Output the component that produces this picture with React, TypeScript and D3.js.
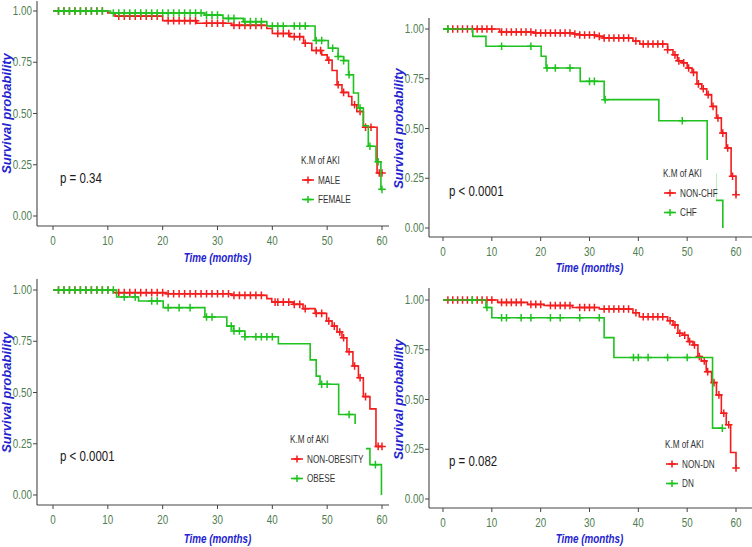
import React from "react";
import * as d3 from "d3";

// ---------- shared axis values ----------
const timeTicks = [0, 10, 20, 30, 40, 50, 60];
const survTicks = [0, 0.25, 0.5, 0.75, 1];
const legendTitle = "K.M of AKI";
const xTitle = "Time (months)";
const yTitle = "Survival probability";

// ---------- Panel A: sex ----------
const maleSteps: [number, number][] = [
  [0, 1], [10, 0.99], [11.3, 0.975], [20, 0.953], [26.2, 0.94], [32.6, 0.93], [39, 0.915],
  [40, 0.89], [43.2, 0.875], [45.7, 0.843], [47.2, 0.807], [49, 0.786], [50, 0.76], [50.9, 0.71],
  [51.8, 0.64], [52.7, 0.603], [53.9, 0.583], [54.5, 0.543], [55.4, 0.51], [56.6, 0.433], [59.1, 0.21],
];
const maleCensor = [1, 2, 3, 4, 5, 6, 7, 8, 9, 12, 13, 14, 15, 16, 17, 18, 19, 21, 22, 23, 24, 25, 26,
  28, 29, 30, 31, 33, 34, 35, 36, 37, 38, 41, 42, 43, 44, 45, 46, 48, 48.8, 50.3, 52, 53, 55, 56, 57, 58, 59.5, 60];
const femaleSteps: [number, number][] = [
  [0, 1], [10.5, 0.99], [27.7, 0.98], [31, 0.964], [34.7, 0.948], [39, 0.927], [47.8, 0.856],
  [50.2, 0.818], [52, 0.778], [53, 0.758], [53.9, 0.689], [54.8, 0.6], [55.7, 0.527], [56.6, 0.44],
  [57.5, 0.34], [58.9, 0.265], [59.8, 0.13],
];
const femaleCensor = [1, 2, 3, 4, 5, 6, 7, 8, 9, 11, 12, 13, 14, 15, 16, 17, 18, 19, 20, 21, 22, 23, 24, 25,
  26, 27, 28, 29, 30, 32, 33, 35, 36, 37, 38, 40, 41, 42, 44, 45, 46, 48, 49, 51, 52, 53, 54, 56, 57.8, 59.3, 60];

// ---------- Panel B: CHF ----------
const nonChfSteps: [number, number][] = [
  [0, 1], [11.6, 0.985], [18.6, 0.98], [26.8, 0.975], [28, 0.97], [31.4, 0.963], [32.8, 0.955],
  [38.9, 0.94], [40.3, 0.925], [46, 0.896], [47.1, 0.87], [48, 0.84], [49, 0.83], [50, 0.804],
  [51, 0.782], [52, 0.724], [53, 0.7], [54, 0.67], [55, 0.611], [56, 0.553], [57, 0.477],
  [58, 0.402], [59, 0.26], [60, 0.167],
];
const nonChfCensor = [1, 2, 3, 4, 5, 6, 7, 8, 9, 10, 12, 13, 14, 15, 16, 17, 18, 19, 20, 21, 22, 23, 24, 25,
  26, 27, 28, 29, 30, 31, 32, 33, 34, 35, 36, 37, 38, 39.5, 41, 42, 43, 44, 45, 46, 47.5, 48.3, 49.3,
  50.3, 51.3, 52.3, 53.3, 54.3, 55.3, 56.3, 57.3, 58.3, 59.3, 60];
const chfSteps: [number, number][] = [
  [0, 1], [6.1, 0.963], [8.8, 0.913], [20.1, 0.863], [21.1, 0.804], [28.1, 0.737], [33, 0.645],
  [44.2, 0.539], [54.1, 0.27], [55.8, 0.139], [57.3, 0],
];
const chfCensor = [1, 12, 18, 21.3, 23, 26, 30, 31, 33.2, 49];

// ---------- Panel C: obesity ----------
const nonObeseSteps: [number, number][] = [
  [0, 1], [11, 0.987], [20.7, 0.982], [32.6, 0.974], [39, 0.958], [39.9, 0.941], [43.8, 0.93],
  [45.6, 0.909], [47.8, 0.886], [49.9, 0.849], [50.9, 0.824], [51.8, 0.795], [52.7, 0.767],
  [53.6, 0.699], [54.7, 0.629], [55.7, 0.572], [56.6, 0.48], [57.8, 0.42], [58.9, 0.237],
];
const nonObeseCensor = [1, 2, 3, 4, 5, 6, 7, 8, 9, 10, 12, 13, 14, 15, 16, 17, 18, 19, 20, 21, 22, 23, 24,
  25, 26, 27, 28, 29, 30, 31, 32, 33, 34, 35, 36, 37, 38, 40.5, 41, 42, 43, 44, 45, 46, 48, 49, 50.3,
  51.3, 52.3, 53, 54, 55, 56, 57, 59.3, 60];
const obeseSteps: [number, number][] = [
  [0, 1], [11.6, 0.966], [15.6, 0.946], [20.1, 0.914], [27.7, 0.868], [31.7, 0.824], [32.9, 0.8],
  [35, 0.772], [41.1, 0.738], [46.9, 0.659], [48, 0.58], [48.7, 0.54], [52.1, 0.393], [55.1, 0.3],
  [56.5, 0.226], [57.8, 0.148], [59.9, 0],
];
const obeseCensor = [1, 2, 3, 4, 5, 6, 7, 8, 9, 10, 11, 13, 15, 18, 19, 21, 23, 25, 28, 29, 32.5, 33, 34,
  35, 37, 38, 39, 40, 49, 50, 54, 58.8];

// ---------- Panel D: DN ----------
const nonDnSteps: [number, number][] = [
  [0, 1], [11.2, 0.988], [17.3, 0.978], [20.7, 0.972], [26.5, 0.962], [32, 0.955], [38.9, 0.936],
  [40.2, 0.916], [46, 0.896], [47.1, 0.875], [48.1, 0.833], [49.1, 0.823], [50.2, 0.791],
  [51.2, 0.774], [52.2, 0.716], [52.9, 0.694], [53.9, 0.64], [55, 0.585], [56, 0.523], [57, 0.431],
  [58, 0.373], [58.9, 0.234], [60, 0.156],
];
const nonDnCensor = [1, 2, 3, 4, 5, 6, 7, 8, 9, 10, 12, 13, 14, 15, 16, 18, 19, 20, 22, 23, 24, 25, 26, 28,
  29, 30, 31, 33, 34, 35, 36, 37, 38, 39.5, 41, 42, 43, 44, 45, 46.5, 47.5, 48.5, 49.5, 50.5, 51.5,
  52.5, 53.5, 54.2, 55.5, 56.5, 57.5, 58.5, 60];
const dnSteps: [number, number][] = [
  [0, 1], [8.8, 0.962], [10, 0.911], [33, 0.811], [35, 0.711], [55.2, 0.356],
];
const dnCensor = [6, 9, 12, 13, 16, 18, 22, 24, 28, 32, 39, 40, 42, 46, 50, 57.2];

// ---------- styling ----------
const RED = "#f41c1c";
const GREEN = "#1fc21f";
const TICK_COLOR = "#4f7d4f";
const TITLE_COLOR = "#2323cf";
const FONT = "'Liberation Sans', Arial, sans-serif";
const SX = 0.82;

type Series = { label: string; color: string; steps: [number, number][]; censor: number[] };

type PanelCfg = {
  x0: number; x1: number; yTop: number; yBot: number;
  axisX: number; axisYTop: number; axisY: number; axisXEnd: number;
  yTitleX: number; xTitleY: number;
  pText: string; pX: number; pY: number;
  legX: number; legY: number; box: [number, number, number, number];
  series: Series[];
};

const panels: PanelCfg[] = [
  {
    x0: 53, x1: 382, yTop: 11, yBot: 216, axisX: 37, axisYTop: 1, axisY: 226, axisXEnd: 389,
    yTitleX: 11, xTitleY: 262, pText: "p = 0.34", pX: 60, pY: 183,
    legX: 301, legY: 160, box: [295, 148, 357, 212],
    series: [
      { label: "MALE", color: RED, steps: maleSteps, censor: maleCensor },
      { label: "FEMALE", color: GREEN, steps: femaleSteps, censor: femaleCensor },
    ],
  },
  {
    x0: 443, x1: 736, yTop: 29, yBot: 228, axisX: 429, axisYTop: 18, axisY: 237, axisXEnd: 752,
    yTitleX: 403, xTitleY: 272, pText: "p < 0.0001", pX: 449, pY: 196,
    legX: 663, legY: 173, box: [657, 160, 716, 222],
    series: [
      { label: "NON-CHF", color: RED, steps: nonChfSteps, censor: nonChfCensor },
      { label: "CHF", color: GREEN, steps: chfSteps, censor: chfCensor },
    ],
  },
  {
    x0: 53, x1: 382, yTop: 290, yBot: 495, axisX: 37, axisYTop: 279, axisY: 505, axisXEnd: 389,
    yTitleX: 11, xTitleY: 543, pText: "p < 0.0001", pX: 60, pY: 461,
    legX: 290, legY: 439, box: [284, 424, 366, 492],
    series: [
      { label: "NON-OBESITY", color: RED, steps: nonObeseSteps, censor: nonObeseCensor },
      { label: "OBESE", color: GREEN, steps: obeseSteps, censor: obeseCensor },
    ],
  },
  {
    x0: 443, x1: 736, yTop: 300, yBot: 499, axisX: 429, axisYTop: 288, axisY: 508, axisXEnd: 752,
    yTitleX: 403, xTitleY: 543, pText: "p = 0.082", pX: 449, pY: 466,
    legX: 665, legY: 444, box: [659, 432, 709, 492],
    series: [
      { label: "NON-DN", color: RED, steps: nonDnSteps, censor: nonDnCensor },
      { label: "DN", color: GREEN, steps: dnSteps, censor: dnCensor },
    ],
  },
];

function survAt(steps: [number, number][], t: number) {
  let s = 1;
  for (const [ti, si] of steps) if (ti <= t) s = si;
  return s;
}

function NText(props: {
  x: number; y: number; size: number; fill: string; anchor?: string; weight?: string;
  italic?: boolean; rotate?: number; sx?: number; children: React.ReactNode;
}) {
  const { x, y, size, fill, anchor = "start", weight = "normal", italic = false, rotate = 0, sx = SX } = props;
  return (
    <text
      transform={`translate(${x},${y}) rotate(${rotate}) scale(${sx},1)`}
      fontFamily={FONT}
      fontSize={size}
      fill={fill}
      textAnchor={anchor}
      fontWeight={weight}
      fontStyle={italic ? "italic" : "normal"}
    >
      {props.children}
    </text>
  );
}

function Cross({ x, y, color, h = 3.8 }: { x: number; y: number; color: string; h?: number }) {
  return (
    <path d={`M${x - h},${y}H${x + h}M${x},${y - h}V${y + h}`} stroke={color} strokeWidth={1.5} fill="none" />
  );
}

function Panel({ cfg }: { cfg: PanelCfg }) {
  const x = d3.scaleLinear().domain([0, 60]).range([cfg.x0, cfg.x1]);
  const y = d3.scaleLinear().domain([0, 1]).range([cfg.yBot, cfg.yTop]);
  const line = d3
    .line<[number, number]>()
    .x((d) => x(d[0]))
    .y((d) => y(d[1]))
    .curve(d3.curveStepAfter);
  const fmt = d3.format(".2f");
  const [bx0, by0, bx1, by1] = cfg.box;
  return (
    <g>
      {cfg.series.map((s) => {
        const last = s.steps[s.steps.length - 1];
        const tEnd = Math.max(last[0], d3.max(s.censor) ?? 0);
        const pts: [number, number][] = [...s.steps, [tEnd, last[1]]];
        return (
          <g key={s.label}>
            <path d={line(pts) ?? ""} fill="none" stroke={s.color} strokeWidth={1.6} />
            {s.censor.map((t, i) => (
              <Cross key={i} x={x(t)} y={y(survAt(s.steps, t))} color={s.color} />
            ))}
          </g>
        );
      })}
      {/* legend background */}
      <rect x={bx0} y={by0} width={bx1 - bx0} height={by1 - by0} fill="#fff" />
      <NText x={cfg.legX} y={cfg.legY + 3.5} size={10} fill="#333">{legendTitle}</NText>
      {cfg.series.map((s, i) => {
        const cy = cfg.legY + 20 + i * 19.5;
        const sx = cfg.legX + 1;
        return (
          <g key={s.label}>
            <line x1={sx} x2={sx + 12} y1={cy} y2={cy} stroke={s.color} strokeWidth={1.6} />
            <Cross x={sx + 6} y={cy} color={s.color} h={3.5} />
            <NText x={sx + 16} y={cy + 3.6} size={10} fill="#333">{s.label}</NText>
          </g>
        );
      })}
      {/* axes */}
      <line x1={cfg.axisX} x2={cfg.axisX} y1={cfg.axisYTop} y2={cfg.axisY} stroke="#444" strokeWidth={1.1} />
      <line x1={cfg.axisX} x2={cfg.axisXEnd} y1={cfg.axisY} y2={cfg.axisY} stroke="#444" strokeWidth={1.1} />
      {survTicks.map((v) => (
        <g key={v}>
          <line x1={cfg.axisX - 4} x2={cfg.axisX} y1={y(v)} y2={y(v)} stroke="#444" strokeWidth={1} />
          <NText x={cfg.axisX - 5} y={y(v) + 4.2} size={12} fill={TICK_COLOR} anchor="end">{fmt(v)}</NText>
        </g>
      ))}
      {timeTicks.map((v) => (
        <g key={v}>
          <line x1={x(v)} x2={x(v)} y1={cfg.axisY} y2={cfg.axisY + 4} stroke="#444" strokeWidth={1} />
          <NText x={x(v)} y={cfg.axisY + 18.5} size={12} fill={TICK_COLOR} anchor="middle">{v}</NText>
        </g>
      ))}
      <NText x={(cfg.x0 + cfg.x1) / 2} y={cfg.xTitleY} size={12} fill={TITLE_COLOR} anchor="middle" weight="bold" italic>
        {xTitle}
      </NText>
      <NText x={cfg.yTitleX} y={(cfg.yTop + cfg.yBot) / 2} size={13} fill={TITLE_COLOR} anchor="middle" weight="bold" italic rotate={-90} sx={1}>
        {yTitle}
      </NText>
      <NText x={cfg.pX} y={cfg.pY} size={14} fill="#1a1a1a">{cfg.pText}</NText>
    </g>
  );
}

export default function App() {
  return (
    <svg width={752} height={547} style={{ position: "absolute", left: 0, top: 0, background: "#fff" }}>
      <rect width={752} height={547} fill="#fff" />
      {panels.map((p, i) => (
        <Panel key={i} cfg={p} />
      ))}
    </svg>
  );
}
